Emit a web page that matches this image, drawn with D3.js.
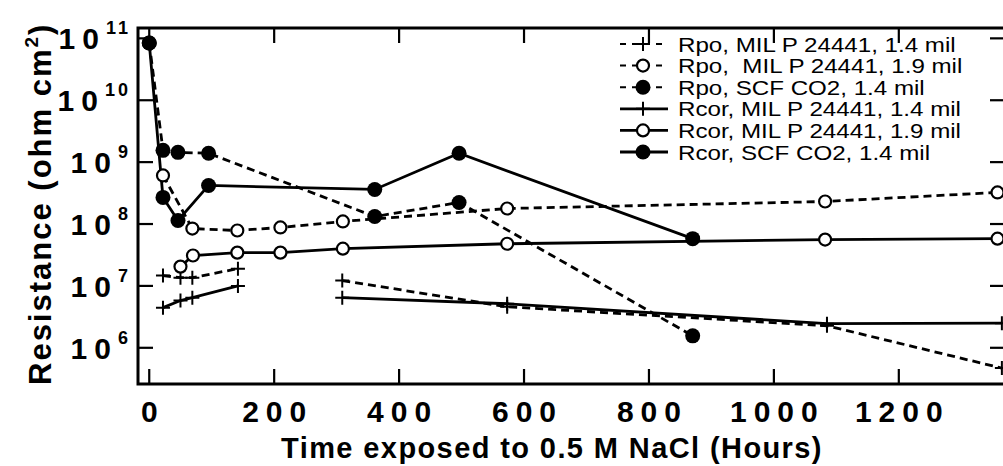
<!DOCTYPE html>
<html>
<head>
<meta charset="utf-8">
<script src="https://cdn.jsdelivr.net/npm/d3@7"></script>
<style>
body { margin: 0; background: #fff; }
svg { display: block; }
text { font-family: "Liberation Sans", Arial, sans-serif; fill: #000; }
</style>
</head>
<body>
<div id="chart"></div>
<script>
// hours / resistance (null = break in the line)
var rpo14Hours = [22, 50, 69, 142, null, 309, 573, 1085, 1365];
var rpo14Values = [1.47e7, 1.36e7, 1.36e7, 1.9e7, null, 1.22e7, 4.6e6, 2.27e6, 4.7e5];

var rpo19Hours = [22, 69, 141, 210, 310, 573, 1082, 1358];
var rpo19Values = [6.1e8, 8.45e7, 7.85e7, 8.8e7, 1.1e8, 1.78e8, 2.31e8, 3.24e8];

var rpoScfHours = [0, 22, 46, 95, 361, 496, 870];
var rpoScfValues = [8.4e10, 1.55e9, 1.44e9, 1.39e9, 1.32e8, 2.23e8, 1.56e6];

var rcor14Hours = [22, 50, 69, 142, null, 309, 573, 1085, 1365];
var rcor14Values = [4.45e6, 5.8e6, 6.45e6, 1.0e7, null, 6.45e6, 5.15e6, 2.45e6, 2.5e6];

var rcor19Hours = [50, 70, 141, 210, 310, 573, 1082, 1358];
var rcor19Values = [2.05e7, 3.1e7, 3.45e7, 3.45e7, 4.0e7, 4.8e7, 5.6e7, 5.8e7];

var rcorScfHours = [0, 22, 46, 95, 361, 496, 870];
var rcorScfValues = [8.4e10, 2.69e8, 1.14e8, 4.2e8, 3.62e8, 1.39e9, 5.8e7];

var seriesLabels = ["Rpo, MIL P 24441, 1.4 mil", "Rpo,  MIL P 24441, 1.9 mil", "Rpo, SCF CO2, 1.4 mil",
  "Rcor, MIL P 24441, 1.4 mil", "Rcor, MIL P 24441, 1.9 mil", "Rcor, SCF CO2, 1.4 mil"];

var xTicks = [0, 200, 400, 600, 800, 1000, 1200];
var yExponents = [6, 7, 8, 9, 10, 11];

var width = 1003, height = 466;

var x = d3.scaleLinear().domain([-18, 1370]).range([138, 1005]);
var y = d3.scaleLog().domain([2.6e5, 1.47e11]).range([384, 28]);

var series = [
  { h: rpo14Hours, v: rpo14Values, dashed: true, marker: "plus" },
  { h: rpo19Hours, v: rpo19Values, dashed: true, marker: "open" },
  { h: rpoScfHours, v: rpoScfValues, dashed: true, marker: "filled" },
  { h: rcor14Hours, v: rcor14Values, dashed: false, marker: "plus" },
  { h: rcor19Hours, v: rcor19Values, dashed: false, marker: "open" },
  { h: rcorScfHours, v: rcorScfValues, dashed: false, marker: "filled" }
];
series.forEach(function(s, i) {
  s.label = seriesLabels[i];
  s.points = s.h.map(function(h, j) { return [h, s.v[j]]; });
});

var svg = d3.select("#chart").append("svg").attr("width", width).attr("height", height);

var x0 = x.range()[0], x1 = x.range()[1], yTop = y.range()[1], yBot = y.range()[0];

// frame
svg.append("path")
  .attr("d", "M" + x0 + "," + yBot + "V" + yTop + "H" + x1 + "V" + yBot + "Z")
  .attr("fill", "none").attr("stroke", "#000").attr("stroke-width", 3);

// ticks
var tickLen = 15;
xTicks.forEach(function(t) {
  svg.append("line").attr("x1", x(t)).attr("x2", x(t)).attr("y1", yBot).attr("y2", yBot - tickLen)
    .attr("stroke", "#000").attr("stroke-width", 2.2);
  svg.append("line").attr("x1", x(t)).attr("x2", x(t)).attr("y1", yTop).attr("y2", yTop + tickLen)
    .attr("stroke", "#000").attr("stroke-width", 2.2);
  svg.append("text").attr("x", x(t) + 3.5).attr("y", 422)
    .attr("text-anchor", "middle").style("font-size", "30px").style("font-weight", "bold")
    .style("letter-spacing", "7px").text(t);
});

yExponents.forEach(function(e) {
  var yy = y(Math.pow(10, e));
  svg.append("line").attr("x1", x0).attr("x2", x0 + tickLen).attr("y1", yy).attr("y2", yy)
    .attr("stroke", "#000").attr("stroke-width", 2.2);
  svg.append("line").attr("x1", x1).attr("x2", x1 - tickLen).attr("y1", yy).attr("y2", yy)
    .attr("stroke", "#000").attr("stroke-width", 2.2);
  var t = svg.append("text").attr("x", 131).attr("y", yy + 11).attr("text-anchor", "end")
    .style("font-weight", "bold");
  t.append("tspan").style("font-size", "30px").style("letter-spacing", "7px").text("10");
  t.append("tspan").attr("dy", -15).style("font-size", "18px").style("letter-spacing", "3px").text(e);
});

// lines
var line = d3.line()
  .defined(function(d) { return d[1] != null; })
  .x(function(d) { return x(d[0]); })
  .y(function(d) { return y(d[1]); });

series.forEach(function(s) {
  svg.append("path").datum(s.points).attr("d", line)
    .attr("fill", "none").attr("stroke", "#000").attr("stroke-width", 2.8)
    .attr("stroke-dasharray", s.dashed ? "8,5" : null);
});

function drawMarker(g, type, cx, cy) {
  if (type === "plus") {
    g.append("path").attr("d", "M" + (cx - 7) + "," + cy + "H" + (cx + 7) + "M" + cx + "," + (cy - 7) + "V" + (cy + 7))
      .attr("stroke", "#000").attr("stroke-width", 2).attr("fill", "none");
  } else if (type === "open") {
    g.append("circle").attr("cx", cx).attr("cy", cy).attr("r", 6)
      .attr("fill", "#fff").attr("stroke", "#000").attr("stroke-width", 2.2);
  } else {
    g.append("circle").attr("cx", cx).attr("cy", cy).attr("r", 7.5).attr("fill", "#000");
  }
}

series.forEach(function(s) {
  var g = svg.append("g");
  s.points.forEach(function(d) {
    if (d[1] != null) drawMarker(g, s.marker, x(d[0]), y(d[1]));
  });
});

// legend
var legend = svg.append("g");
series.forEach(function(s, i) {
  var ry = 44 + i * 21.6;
  legend.append("line").attr("x1", 620).attr("x2", 668).attr("y1", ry).attr("y2", ry)
    .attr("stroke", "#000").attr("stroke-width", s.dashed ? 2 : 2.8)
    .attr("stroke-dasharray", s.dashed ? "6,6" : null);
  drawMarker(legend, s.marker, 643, ry);
  legend.append("text").attr("transform", "translate(678," + (ry + 7.5) + ") scale(1.15,1)")
    .style("font-size", "21px").style("white-space", "pre").text(s.label);
});

// axis titles
svg.append("text").attr("x", 552).attr("y", 458).attr("text-anchor", "middle")
  .style("font-size", "29px").style("font-weight", "bold").style("letter-spacing", "1.4px")
  .text("Time exposed to 0.5 M NaCl (Hours)");

var yt = svg.append("text").attr("transform", "translate(51,385) rotate(-90)")
  .style("font-size", "31px").style("font-weight", "bold").style("letter-spacing", "2px");
yt.append("tspan").text("Resistance (ohm cm");
yt.append("tspan").attr("dy", -13).style("font-size", "19px").text("2");
yt.append("tspan").attr("dy", 13).text(")");
</script>
</body>
</html>
